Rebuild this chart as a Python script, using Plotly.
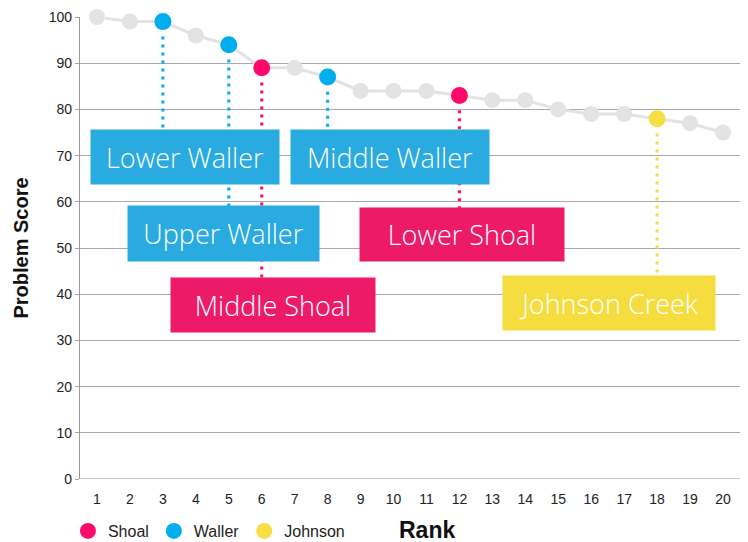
import plotly.graph_objects as go

# ---- data ----
ranks = list(range(1, 21))
scores = [100, 99, 99, 96, 94, 89, 89, 87, 84, 84, 84, 83, 82, 82, 80, 79, 79, 78, 77, 75]

group_names = ["Shoal", "Waller", "Johnson"]
group_ranks = {"Shoal": [6, 12], "Waller": [3, 5, 8], "Johnson": [18]}

label_texts = ["Lower Waller", "Upper Waller", "Middle Waller", "Middle Shoal", "Lower Shoal", "Johnson Creek"]
label_ranks = [3, 5, 8, 6, 12, 18]
label_groups = ["Waller", "Waller", "Waller", "Shoal", "Shoal", "Johnson"]

y_ticks = list(range(0, 101, 10))
x_ticks = ranks

# ---- styles / layout helpers ----
marker_colors = {"Shoal": "#FF0A6C", "Waller": "#00AEEF", "Johnson": "#F7DE45"}
box_colors = {"Shoal": "#ED1A69", "Waller": "#29ABE2", "Johnson": "#F6DD3F"}
# label box centre (rank units, score units) and size (px)
label_cx = [3.67, 4.84, 9.89, 6.34, 12.08, 16.54]
label_cy = [69.7, 53.2, 69.7, 37.7, 53.0, 38.1]
label_w = [188, 191, 198, 204, 204, 212]
label_h = [54, 55, 54, 54, 53, 54]

score_of = dict(zip(ranks, scores))

fig = go.Figure()

# grey line with all points
fig.add_trace(go.Scatter(
    x=ranks, y=scores, mode="lines+markers",
    line=dict(color="#E3E3E3", width=3),
    marker=dict(color="#E3E3E3", size=16),
    showlegend=False, hoverinfo="skip", cliponaxis=False,
))

# dotted drop lines
for txt, r, g, cy in zip(label_texts, label_ranks, label_groups, label_cy):
    fig.add_trace(go.Scatter(
        x=[r, r], y=[score_of[r] - 3.2, cy], mode="lines",
        line=dict(color=marker_colors[g], width=3, dash="3px,5px"),
        showlegend=False, hoverinfo="skip",
    ))

# coloured points (legend)
for g in group_names:
    rs = group_ranks[g]
    fig.add_trace(go.Scatter(
        x=rs, y=[score_of[r] for r in rs], mode="markers", name=g,
        marker=dict(color=marker_colors[g], size=17),
        cliponaxis=False,
    ))

annotations = []
for txt, g, cx, cy, w, h in zip(label_texts, label_groups, label_cx, label_cy, label_w, label_h):
    annotations.append(dict(
        x=cx, y=cy, xref="x", yref="y", text=txt, showarrow=False,
        bgcolor=box_colors[g], width=w, height=h, borderpad=0,
        font=dict(family="Open Sans, Liberation Sans, sans-serif", size=27, color="white", weight=300),
        align="center", valign="middle",
    ))
annotations.append(dict(
    x=0.526, y=0, xref="paper", yref="paper", yshift=-51, text="<b>Rank</b>",
    showarrow=False, font=dict(family="Liberation Sans Narrow, Liberation Sans, sans-serif", size=23, color="#111"),
    xanchor="center", yanchor="middle",
))

fig.update_layout(
    width=740, height=534,
    margin=dict(l=72, r=8, t=9, b=63, autoexpand=False),
    plot_bgcolor="white", paper_bgcolor="white",
    annotations=annotations,
    legend=dict(orientation="h", x=0.081, y=0.0206, yanchor="middle", xanchor="left",
                yref="container", xref="container",
                font=dict(family="Liberation Sans Narrow, Liberation Sans, sans-serif", size=16, color="#222"),
                itemwidth=30, tracegroupgap=0, traceorder="normal"),
    showlegend=True,
)

fig.update_xaxes(
    range=[0.484, 20.516], tickvals=x_ticks, ticktext=[str(t) for t in x_ticks],
    showgrid=False, zeroline=False, showline=False, ticks="", automargin=False,
    ticklabelstandoff=10,
    tickfont=dict(family="Liberation Sans Narrow, Liberation Sans, sans-serif", size=14, color="#222"),
)
fig.update_yaxes(
    range=[0, 100], tickvals=y_ticks, automargin=False,
    showgrid=True, gridcolor="#A8A8A8", gridwidth=1.2,
    zeroline=False, showline=True, linecolor="#999", linewidth=1.2,
    ticks="outside", ticklen=4, tickcolor="#A8A8A8",
    tickfont=dict(family="Liberation Sans, sans-serif", size=14, color="#222"),
    title=dict(text="<b>Problem Score</b>", standoff=14,
               font=dict(family="Liberation Sans, sans-serif", size=20, color="#111")),
)
# bottom baseline
fig.add_hline(y=0, line=dict(color="#C8C8C8", width=2))

fig.write_html("out.html")
